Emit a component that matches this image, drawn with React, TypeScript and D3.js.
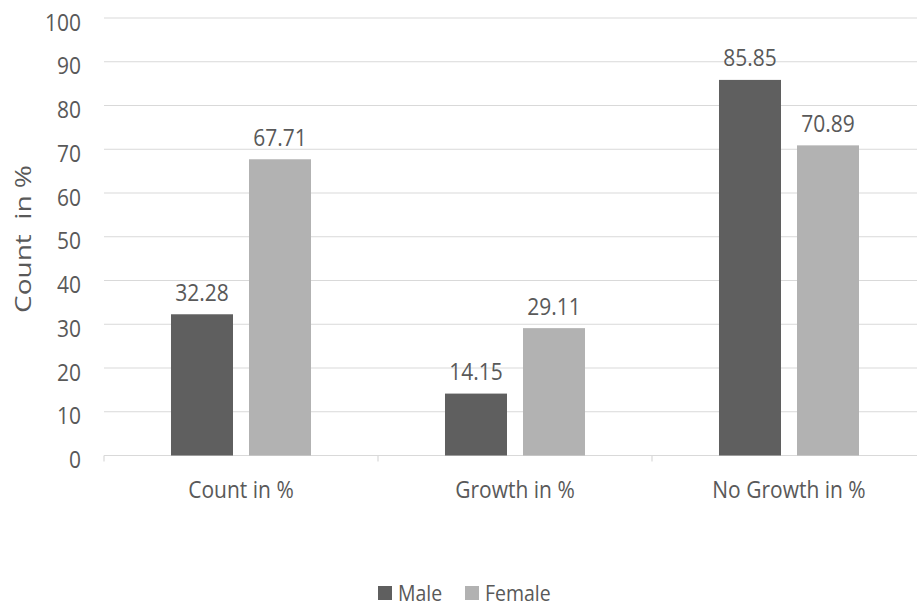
import React from "react";
import * as d3 from "d3";

const categories = ["Count in %", "Growth in %", "No Growth in %"];
const seriesNames = ["Male", "Female"];
const maleValues = [32.28, 14.15, 85.85];
const femaleValues = [67.71, 29.11, 70.89];
const yTicks = [0, 10, 20, 30, 40, 50, 60, 70, 80, 90, 100];
const colors = ["#5f5f5f", "#b2b2b2"];

const W = 917;
const H = 607;
const FONT = "'Open Sans', sans-serif";
const TEXT = "#595959";
const FS = 21;
const SY = 1.12;

function Txt({ x, y, anchor = "start", size = FS, children }: { x: number; y: number; anchor?: string; size?: number; children: React.ReactNode }) {
  return (
    <text transform={`translate(${x},${y}) scale(1,${SY})`} textAnchor={anchor} fontSize={size} fill={TEXT}>
      {children}
    </text>
  );
}

export default function App() {
  const left = 104;
  const right = 926;
  const top = 18;
  const bottom = 455.5;
  const x = d3.scaleBand<string>().domain(categories).range([left, right]).paddingInner(0).paddingOuter(0);
  const y = d3.scaleLinear().domain([0, 100]).range([bottom, top]);
  const series = [maleValues, femaleValues];
  const bw = x.bandwidth();
  const barW = bw * 0.2263;
  const gap = bw * 0.0584;
  const groupW = barW * 2 + gap;
  return (
    <svg width={W} height={H} style={{ position: "absolute", left: 0, top: 0, display: "block", overflow: "hidden" }} fontFamily={FONT}>
      <rect x={0} y={0} width={W} height={H} fill="#fff" />
      {yTicks.map((t) => (
        <g key={t}>
          {t > 0 && <line x1={left} x2={right} y1={y(t)} y2={y(t)} stroke="#d9d9d9" strokeWidth={1.2} />}
          <Txt x={81} y={y(t) + 12.5} anchor="end">{t}</Txt>
        </g>
      ))}
      <line x1={left} x2={right} y1={y(0)} y2={y(0)} stroke="#d9d9d9" strokeWidth={1.2} />
      {[...categories.map((c) => x(c)!), right].map((px, i) => (
        <line key={i} x1={px} x2={px} y1={y(0)} y2={y(0) + 6} stroke="#d9d9d9" strokeWidth={1.2} />
      ))}
      {categories.map((c, ci) => {
        const gx = x(c)! + (bw - groupW) / 2;
        return (
          <g key={c}>
            {series.map((vals, si) => {
              const bx = gx + si * (barW + gap);
              const v = vals[ci];
              return (
                <g key={si}>
                  <rect x={bx} y={y(v)} width={barW} height={y(0) - y(v)} fill={colors[si]} />
                  <Txt x={bx + barW / 2} y={y(v) - 13.5} anchor="middle">{v.toFixed(2)}</Txt>
                </g>
              );
            })}
            <Txt x={x(c)! + bw / 2} y={498} anchor="middle">{c}</Txt>
          </g>
        );
      })}
      <text transform={`translate(31,239) rotate(-90)`} textAnchor="middle" fontSize={21} fill={TEXT} textLength={148} lengthAdjust="spacingAndGlyphs" xmlSpace="preserve">Count  in %</text>
      <g>
        <rect x={378} y={586} width={14} height={14} fill={colors[0]} />
        <Txt x={398} y={601} size={19.5}>{seriesNames[0]}</Txt>
        <rect x={465} y={586} width={14} height={14} fill={colors[1]} />
        <Txt x={485} y={601} size={19.5}>{seriesNames[1]}</Txt>
      </g>
    </svg>
  );
}
